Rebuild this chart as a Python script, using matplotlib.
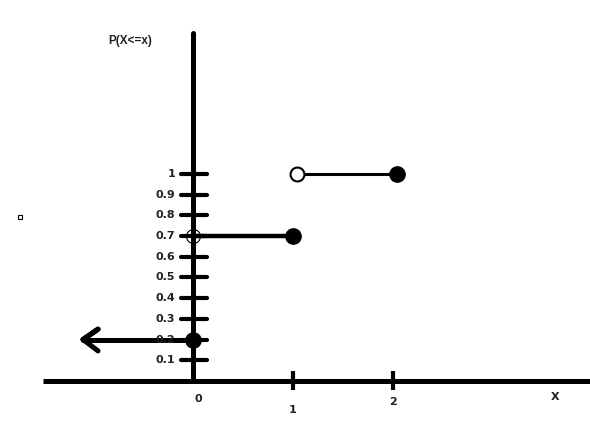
import matplotlib
matplotlib.use('Agg')
from matplotlib import pyplot as plt

plt.rcParams['font.family'] = ['DejaVu Sans']

# 分布函数 P(X<=x) 的数据
y_ticks = [0.1, 0.2, 0.3, 0.4, 0.5, 0.6, 0.7, 0.8, 0.9, 1]
y_tick_labels = ['0.1', '0.2', '0.3', '0.4', '0.5', '0.6', '0.7', '0.8', '0.9', '1']
x_ticks = [1, 2]
x_tick_labels = ['0', '1', '2']
x_label_pos = [0, 1, 2]

left_level = 0.2          # x < 0 的那一段（向左箭头）
seg_start = [0, 1.04]     # 每段起点（空心圆）
seg_end = [1, 2.04]       # 每段终点（实心圆）
seg_level = [0.7, 1]

fig = plt.figure(figsize=(5.9, 4.48), dpi=100)
ax = fig.add_axes([0, 0, 1, 1])
ax.set_xlim(-1.93, 3.97)
ax.set_ylim(-0.324, 1.84)
ax.axis('off')

lw_axis = 3.6
# 坐标轴
ax.plot([-1.5, 4], [0, 0], color='black', lw=lw_axis, solid_capstyle='butt')
ax.plot([0, 0], [0, 1.68], color='black', lw=lw_axis, solid_capstyle='round')

# y 轴刻度
for t, lab in zip(y_ticks, y_tick_labels):
    ax.plot([-0.12, 0.14], [t, t], color='black', lw=3, solid_capstyle='round')
    ax.text(-0.18, t, lab, ha='right', va='center', fontsize=8, fontweight='bold', color='#222222')

# x 轴刻度
for t in x_ticks:
    ax.plot([t, t], [-0.045, 0.05], color='black', lw=3, solid_capstyle='butt')
dy = [-0.085, -0.14, -0.1]
for xp, lab, d in zip(x_label_pos, x_tick_labels, dy):
    ax.text(xp + 0.05 * (xp == 0), d, lab, ha='center', va='center', fontsize=8,
            fontweight='bold', color='#222222')
ax.text(3.62, -0.08, 'X', ha='center', va='center', fontsize=8, fontweight='bold', color='#222222')
ax.text(-0.63, 1.64, 'P(X<=x)', ha='center', va='center', fontsize=8.5, fontweight='bold',
        family='Liberation Sans', color='#222222')

# x < 0 段：向左箭头
ax.plot([0, -1.1], [left_level, left_level], color='black', lw=3.6, solid_capstyle='round')
ax.plot([-1.1, -0.95, -1.1, -0.95], [left_level, left_level + 0.05, left_level, left_level - 0.055],
        color='black', lw=3.6, solid_capstyle='round', solid_joinstyle='round')
ax.plot(0, left_level, 'o', color='black', ms=11)

# 各段阶梯
widths = [3.2, 2.2]
open_ms = [10, 10]
open_ew = [0.8, 1.5]
for x0, x1, lv, w, oms, oew in zip(seg_start, seg_end, seg_level, widths, open_ms, open_ew):
    ax.plot([x0, x1], [lv, lv], color='black', lw=w)
    ax.plot(x0, lv, 'o', mfc='white' if x0 > 0 else 'none', mec='black', ms=oms, mew=oew)
    ax.plot(x1, lv, 'o', color='black', ms=11)

# 左边的小方块
ax.plot(-1.73, (381 - 217) / 207, 's', mfc='white', mec='black', ms=3.5, mew=0.8)

fig.savefig('out.png', dpi=100)
